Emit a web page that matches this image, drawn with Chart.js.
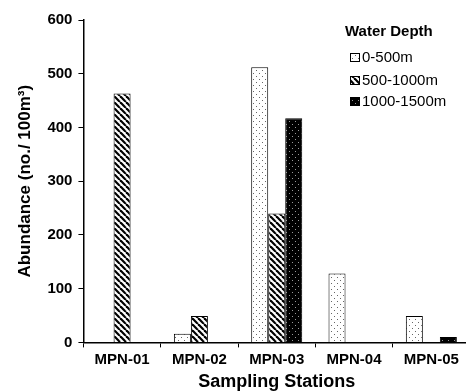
<!DOCTYPE html>
<html>
<head>
<meta charset="utf-8">
<script src="https://cdn.jsdelivr.net/npm/chart.js@4/dist/chart.umd.min.js"></script>
<style>
  html, body { margin: 0; padding: 0; background: #fff; overflow: hidden; }
  #wrap { width: 470px; height: 392px; }
</style>
</head>
<body>
<div id="wrap"><canvas id="abundChart" width="470" height="392"></canvas></div>
<script>
let stations = ["MPN-01", "MPN-02", "MPN-03", "MPN-04", "MPN-05"];
let depth0to500 = [0, 16, 512, 128, 49];
let depth500to1000 = [463, 49, 240, 0, 0];
let depth1000to1500 = [0, 0, 417, 0, 10];
let depthLabels = ["0-500m", "500-1000m", "1000-1500m"];
let yTicks = [0, 100, 200, 300, 400, 500, 600];

// fill patterns
function makePattern(kind) {
    let c = document.createElement("canvas");
    c.width = 6; c.height = 6;
    let g = c.getContext("2d");
    if (kind == "dots") {
        g.fillStyle = "#fff"; g.fillRect(0, 0, 6, 6);
        g.fillStyle = "#666";
        g.fillRect(1, 1, 1, 1); g.fillRect(4, 4, 1, 1);
    } else if (kind == "diag") {
        g.fillStyle = "#fff"; g.fillRect(0, 0, 6, 6);
        g.strokeStyle = "#000"; g.lineWidth = 2.2;
        for (let k = -6; k <= 12; k += 6) {
            g.beginPath(); g.moveTo(k, 0); g.lineTo(k + 6, 6); g.stroke();
        }
    } else {
        g.fillStyle = "#000"; g.fillRect(0, 0, 6, 6);
        g.fillStyle = "#999";
        g.fillRect(1, 1, 1, 1); g.fillRect(4, 4, 1, 1);
    }
    return g.createPattern(c, "repeat");
}
let fills = [makePattern("dots"), makePattern("diag"), makePattern("black")];

let font = "'Liberation Sans', Arial, sans-serif";

let legendBox = {
    id: "legendBox",
    afterDraw(chart) {
        let ctx = chart.ctx;
        ctx.save();
        ctx.fillStyle = "#000";
        ctx.font = "bold 15px " + font;
        ctx.textBaseline = "middle";
        ctx.fillText("Water Depth", 345, 32);
        ctx.font = "15px " + font;
        let ys = [57, 80, 101];
        for (let i = 0; i < 3; i++) {
            ctx.fillStyle = fills[i];
            ctx.fillRect(350, ys[i] - 4, 10, 9);
            ctx.strokeStyle = "#000"; ctx.lineWidth = 1;
            ctx.strokeRect(350.5, ys[i] - 3.5, 9, 8);
            ctx.fillStyle = "#000";
            ctx.fillText(depthLabels[i], 362, ys[i] + 1);
        }
        ctx.restore();
    }
};

new Chart("abundChart", {
    type: "bar",
    data: {
        labels: stations,
        datasets: [
            { label: depthLabels[0], data: depth0to500, backgroundColor: fills[0] },
            { label: depthLabels[1], data: depth500to1000, backgroundColor: fills[1] },
            { label: depthLabels[2], data: depth1000to1500, backgroundColor: fills[2] }
        ].map(d => Object.assign(d, { borderColor: "#000", borderWidth: 1, categoryPercentage: 0.66, barPercentage: 1.0 }))
    },
    options: {
        responsive: false,
        animation: false,
        layout: { padding: { top: 20, right: 0, left: 11, bottom: -5 } },
        plugins: { legend: { display: false }, tooltip: { enabled: false } },
        scales: {
            x: {
                grid: { display: true, drawOnChartArea: false, drawTicks: true, tickLength: 5, color: "#000", offset: true },
                border: { color: "#000", width: 1.5 },
                ticks: { color: "#000", font: { family: font, size: 15, weight: "bold" }, padding: 3 },
                title: { display: true, text: "Sampling Stations", color: "#000", font: { family: font, size: 18, weight: "bold" }, padding: { top: 0 } }
            },
            y: {
                min: 0, max: 600,
                afterBuildTicks(axis) { axis.ticks = yTicks.map(v => ({ value: v })); },
                grid: { display: true, drawOnChartArea: false, drawTicks: true, tickLength: 5, color: "#000" },
                border: { color: "#000", width: 1.5 },
                ticks: { color: "#000", font: { family: font, size: 15, weight: "bold" }, padding: 6 },
                title: { display: true, text: "Abundance (no./ 100m³)", color: "#000", font: { family: font, size: 17, weight: "bold" }, padding: { bottom: 6 } }
            }
        }
    },
    plugins: [legendBox]
});
</script>
</body>
</html>
